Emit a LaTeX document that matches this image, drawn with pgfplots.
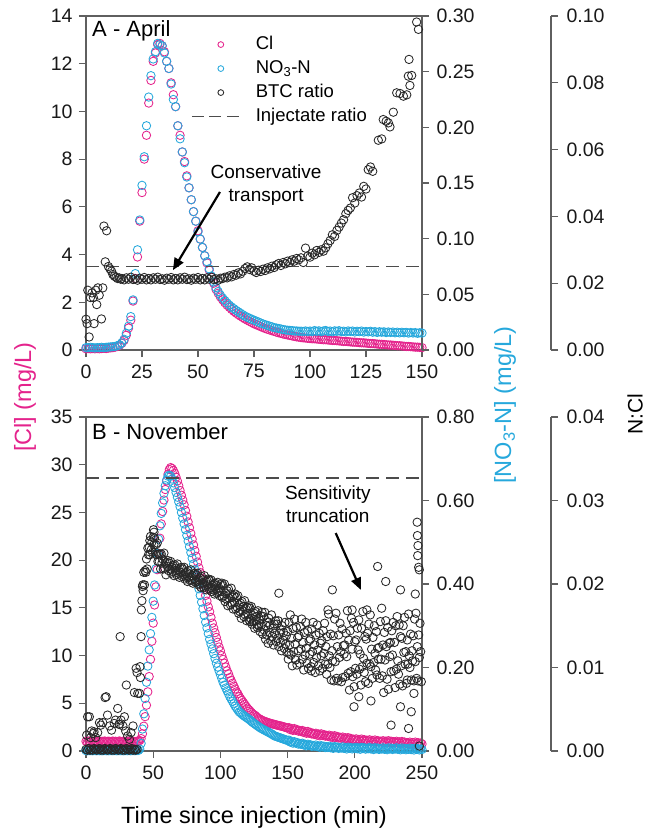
\documentclass[border=0pt]{standalone}
\usepackage{fontspec}
\setmainfont{Liberation Sans}
\usepackage{pgfplots}
\usepackage{pgfplotstable}
\pgfplotsset{compat=1.18}
\usetikzlibrary{arrows.meta}

\definecolor{clpink}{RGB}{228,35,140}
\definecolor{noblue}{RGB}{38,168,220}
\definecolor{axgray}{RGB}{95,95,95}
\definecolor{dotblack}{RGB}{40,40,40}

\pgfplotsset{
  panel/.style={scale only axis, width=336pt, height=334pt, clip=false,
    axis line style={axgray, line width=1.2pt},
    every tick/.style={axgray, line width=1.2pt},
    major tick length=7pt, tick align=outside,
    scaled y ticks=false, scaled x ticks=false,
    /pgf/number format/assume math mode=true,
    tick label style={font=\fontsize{19.5}{23}\selectfont, text=black!90},
    xticklabel style={yshift=-4pt}},
  twodec/.style={yticklabel style={/pgf/number format/fixed, /pgf/number format/fixed zerofill, /pgf/number format/precision=2}},
  dots/.style={only marks, mark=o, mark size=4.2pt, mark options={line width=0.85pt}},
  legm/.style={legend image code/.code={\path[draw=none] (0pt,0pt) -- (50pt,0pt);
      \begin{scope}[shift={(29pt,0pt)}, ##1, mark size=2.9pt, line width=0.85pt, solid]
      \pgfuseplotmark{o}\end{scope}}},
  legl/.style={legend image code/.code={\draw[##1, dash pattern=on 12pt off 5.5pt] (0pt,0pt) -- (47pt,0pt);}},
}

% April: t, Cl (mg/L), NO3-N (mg/L)
\pgfplotstableread[row sep=\\]{
t cl no3\\
0 0.05 0.0021\\ 1 0.06 0.0021\\ 2 0.05 0.0024\\ 3 0.06 0.0021\\ 4 0.05 0.0019\\ 5 0.06 0.0021\\
6 0.05 0.0021\\ 7 0.06 0.0024\\ 8 0.07 0.0021\\ 9 0.06 0.0024\\ 10 0.08 0.0026\\ 11 0.09 0.0028\\
12 0.10 0.0030\\ 13 0.12 0.0032\\ 14 0.15 0.0039\\ 15 0.20 0.0047\\ 16 0.28 0.0064\\ 17 0.40 0.0096\\
18 0.62 0.0150\\ 19 0.92 0.0214\\ 20 1.25 0.0300\\ 21 2.05 0.0450\\ 22 3.00 0.0686\\ 23 3.90 0.0900\\
24 5.40 0.1168\\ 25 6.60 0.1479\\ 26 8.00 0.1736\\ 27 9.00 0.2014\\ 28 10.35 0.2272\\ 29 11.30 0.2464\\
30 12.10 0.2614\\ 31 12.45 0.2679\\ 32 12.80 0.2754\\ 33 12.85 0.2743\\ 34 12.75 0.2732\\ 35 12.50 0.2668\\
36 12.10 0.2593\\ 37 11.80 0.2529\\ 38 11.20 0.2389\\ 39 10.70 0.2250\\ 40 10.20 0.2186\\ 41 9.40 0.2014\\
42 9.00 0.1897\\ 43 8.30 0.1779\\ 44 7.90 0.1682\\ 45 7.30 0.1554\\ 46 6.80 0.1457\\ 47 6.30 0.1350\\
48 5.80 0.1243\\ 49 5.40 0.1157\\ 50 5.00 0.1061\\ 51 4.65 0.0996\\ 52 4.30 0.0921\\ 53 3.95 0.0846\\
54 3.65 0.0793\\ 55 3.35 0.0729\\ 56 3.05 0.0664\\ 57 2.80 0.0611\\ 58 2.55 0.0561\\ 59 2.38 0.0525\\
60 2.22 0.0493\\ 61 2.10 0.0467\\ 62 1.98 0.0444\\ 63 1.88 0.0422\\ 64 1.79 0.0403\\ 65 1.70 0.0386\\
66 1.62 0.0371\\ 67 1.55 0.0356\\ 68 1.48 0.0343\\ 69 1.42 0.0330\\ 70 1.36 0.0317\\ 71 1.30 0.0304\\
72 1.25 0.0294\\ 73 1.20 0.0285\\ 74 1.15 0.0276\\ 75 1.10 0.0268\\ 76 1.06 0.0259\\ 77 1.02 0.0251\\
78 0.98 0.0242\\ 79 0.94 0.0234\\ 80 0.90 0.0227\\ 81 0.87 0.0221\\ 82 0.84 0.0214\\ 83 0.81 0.0208\\
84 0.78 0.0201\\ 85 0.75 0.0197\\ 86 0.72 0.0193\\ 87 0.70 0.0189\\ 88 0.67 0.0184\\ 89 0.65 0.0180\\
90 0.63 0.0178\\ 91 0.61 0.0176\\ 92 0.59 0.0174\\ 93 0.57 0.0171\\ 94 0.55 0.0171\\ 95 0.54 0.0169\\
96 0.52 0.0169\\ 97 0.51 0.0167\\ 98 0.50 0.0171\\ 99 0.49 0.0167\\ 100 0.48 0.0170\\ 101 0.47 0.0166\\
102 0.47 0.0174\\ 103 0.46 0.0168\\ 104 0.45 0.0172\\ 105 0.44 0.0165\\ 106 0.43 0.0171\\ 107 0.43 0.0175\\
108 0.42 0.0167\\ 109 0.41 0.0170\\ 110 0.40 0.0164\\ 111 0.40 0.0172\\ 112 0.39 0.0168\\ 113 0.38 0.0173\\
114 0.37 0.0166\\ 115 0.36 0.0169\\ 116 0.36 0.0163\\ 117 0.35 0.0171\\ 118 0.34 0.0167\\ 119 0.33 0.0170\\
120 0.33 0.0162\\ 121 0.32 0.0168\\ 122 0.31 0.0165\\ 123 0.30 0.0170\\ 124 0.30 0.0161\\ 125 0.29 0.0166\\
126 0.28 0.0163\\ 127 0.27 0.0168\\ 128 0.27 0.0160\\ 129 0.26 0.0165\\ 130 0.25 0.0158\\ 131 0.24 0.0164\\
132 0.24 0.0160\\ 133 0.23 0.0163\\ 134 0.22 0.0157\\ 135 0.21 0.0162\\ 136 0.21 0.0158\\ 137 0.20 0.0161\\
138 0.19 0.0155\\ 139 0.18 0.0160\\ 140 0.18 0.0154\\ 141 0.17 0.0159\\ 142 0.16 0.0155\\ 143 0.15 0.0158\\
144 0.15 0.0152\\ 145 0.14 0.0157\\ 146 0.13 0.0153\\ 147 0.12 0.0156\\ 148 0.12 0.0150\\ 149 0.11 0.0155\\
150 0.10 0.0152\\
}\dataA

% April: BTC ratio (N:Cl)
\pgfplotstableread[row sep=\\]{
t r\\
0 0.0092\\ 0.5 0.0079\\ 0.8 0.0179\\ 1.4 0.0039\\ 2.0 0.0157\\ 2.7 0.0171\\ 3.3 0.0157\\ 3.6 0.0079\\
4.4 0.0179\\ 4.8 0.0136\\ 5.3 0.0186\\ 5.9 0.0164\\ 6.9 0.0093\\ 7.5 0.0186\\ 8.0 0.0371\\ 8.6 0.0264\\
9.2 0.0357\\ 10.0 0.0250\\ 10.7 0.0243\\ 11.4 0.0236\\ 12.0 0.0226\\ 12.7 0.0221\\ 13.4 0.0218\\ 14.1 0.0214\\
14.8 0.0216\\ 15.5 0.0212\\ 16 0.0214\\ 17 0.0210\\ 18 0.0216\\ 19 0.0212\\ 20 0.0218\\ 21 0.0211\\
22 0.0213\\ 23 0.0209\\ 24 0.0215\\ 25 0.0212\\ 26 0.0217\\ 27 0.0210\\ 28 0.0214\\ 29 0.0210\\
30 0.0216\\ 31 0.0212\\ 32 0.0218\\ 33 0.0211\\ 34 0.0213\\ 35 0.0209\\ 36 0.0215\\ 37 0.0212\\
38 0.0217\\ 39 0.0210\\ 40 0.0214\\ 41 0.0210\\ 42 0.0216\\ 43 0.0212\\ 44 0.0218\\ 45 0.0211\\
46 0.0213\\ 47 0.0209\\ 48 0.0215\\ 49 0.0212\\ 50 0.0217\\ 51 0.0210\\ 52 0.0214\\ 53 0.0210\\
54 0.0216\\ 55 0.0212\\ 56 0.0218\\ 57 0.0211\\ 58 0.0213\\ 59 0.0209\\ 60 0.0215\\ 61 0.0214\\
62 0.0218\\ 63 0.0216\\ 64 0.0222\\ 65 0.0219\\ 66 0.0226\\ 67 0.0224\\ 68 0.0231\\ 69 0.0228\\
70 0.0236\\ 71 0.0244\\ 72 0.0249\\ 73 0.0241\\ 74 0.0246\\ 75 0.0236\\ 76 0.0232\\ 77 0.0239\\
78 0.0235\\ 79 0.0242\\ 80 0.0238\\ 81 0.0246\\ 82 0.0243\\ 83 0.0251\\ 84 0.0247\\ 85 0.0255\\
86 0.0259\\ 87 0.0253\\ 88 0.0262\\ 89 0.0258\\ 90 0.0266\\ 91 0.0262\\ 92 0.0270\\ 93 0.0266\\
94 0.0274\\ 95 0.0270\\ 96 0.0276\\ 97 0.0262\\ 98 0.0305\\ 99 0.0281\\ 100 0.0278\\ 101 0.0290\\
102 0.0285\\ 103 0.0298\\ 104 0.0292\\ 105 0.0300\\ 106 0.0296\\ 107 0.0306\\ 108 0.0318\\ 109 0.0328\\
110 0.0345\\ 111 0.0340\\ 112 0.0358\\ 113 0.0368\\ 114 0.0380\\ 115 0.0390\\ 116 0.0408\\ 117 0.0418\\
118 0.0425\\ 119 0.0456\\ 120 0.0440\\ 121 0.0462\\ 122 0.0470\\ 123 0.0458\\ 124 0.0490\\ 125 0.0482\\
126 0.0540\\ 127 0.0548\\ 128 0.0535\\ 130.5 0.0628\\ 132 0.0632\\ 132.7 0.0690\\ 134 0.0685\\ 135 0.0680\\
135.7 0.0668\\ 137.2 0.0712\\ 138.7 0.0770\\ 140.2 0.0768\\ 141.7 0.0760\\ 143.2 0.0764\\ 143.9 0.0820\\ 144.6 0.0792\\
145.4 0.0822\\ 144.2 0.0870\\ 147.6 0.0982\\ 148.4 0.0960\\
}\ratioA

% November: t, Cl (mg/L), NO3-N (mg/L)
\pgfplotstableread[row sep=\\]{
t cl no3\\
0 1.02 0.0010\\ 1 0.96 0.0008\\ 2 1.05 0.0012\\ 3 0.98 0.0009\\ 4 1.03 0.0011\\ 5 0.95 0.0007\\
6 1.01 0.0013\\ 7 1.06 0.0010\\ 8 0.97 0.0008\\ 9 1.00 0.0012\\ 10 1.04 0.0009\\ 11 0.96 0.0011\\
12 1.02 0.0007\\ 13 0.99 0.0010\\ 14 1.05 0.0013\\ 15 0.97 0.0009\\ 16 1.01 0.0011\\ 17 1.03 0.0008\\
18 0.95 0.0012\\ 19 1.00 0.0010\\ 20 1.04 0.0009\\ 21 0.98 0.0011\\ 22 1.02 0.0013\\ 23 0.96 0.0008\\
24 1.01 0.0010\\ 25 1.05 0.0012\\ 26 0.97 0.0009\\ 27 1.00 0.0011\\ 28 1.03 0.0007\\ 29 0.98 0.0010\\
30 1.02 0.0012\\ 31 0.96 0.0009\\ 32 1.04 0.0011\\ 33 0.99 0.0008\\ 34 1.01 0.0010\\ 35 1.03 0.0013\\
36 0.97 0.0009\\ 37 1.00 0.0011\\ 38 1.02 0.0012\\ 39 1.04 0.0015\\ 40 1.10 0.0046\\ 41 1.30 0.0183\\
42 1.80 0.0526\\ 43 2.60 0.0891\\ 44 3.60 0.1257\\ 45 4.80 0.1646\\ 46 6.20 0.2034\\ 47 7.80 0.2423\\
48 9.60 0.2811\\ 49 11.50 0.3200\\ 50 13.40 0.3589\\ 51 15.30 0.3977\\ 52 17.20 0.4366\\ 53 19.00 0.4731\\
54 20.70 0.5074\\ 55 22.30 0.5394\\ 56 23.80 0.5691\\ 57 25.10 0.5943\\ 58 26.30 0.6171\\ 59 27.40 0.6354\\
60 28.30 0.6491\\ 61 29.00 0.6583\\ 62 29.50 0.6606\\ 63 29.70 0.6583\\ 64 29.60 0.6514\\ 65 29.40 0.6423\\
66 29.10 0.6309\\ 67 28.70 0.6194\\ 68 28.30 0.6080\\ 69 27.80 0.5966\\ 70 27.30 0.5851\\ 71 26.80 0.5714\\
72 26.30 0.5577\\ 73 25.80 0.5440\\ 74 25.20 0.5303\\ 75 24.60 0.5166\\ 76 24.00 0.5029\\ 77 23.40 0.4891\\
78 22.80 0.4754\\ 79 22.20 0.4617\\ 80 21.60 0.4480\\ 81 21.00 0.4343\\ 82 20.40 0.4206\\ 83 19.80 0.4046\\
84 19.20 0.3886\\ 85 18.70 0.3726\\ 86 18.10 0.3566\\ 87 17.50 0.3406\\ 88 16.90 0.3246\\ 89 16.30 0.3086\\
90 15.70 0.2949\\ 91 15.10 0.2811\\ 92 14.60 0.2674\\ 93 14.00 0.2560\\ 94 13.40 0.2446\\ 95 12.90 0.2331\\
96 12.40 0.2217\\ 97 11.90 0.2103\\ 98 11.40 0.2011\\ 99 10.90 0.1920\\ 100 10.50 0.1829\\ 101 10.00 0.1737\\
102 9.60 0.1646\\ 103 9.20 0.1577\\ 104 8.80 0.1509\\ 105 8.40 0.1440\\ 106 8.10 0.1371\\ 107 7.70 0.1303\\
108 7.40 0.1246\\ 109 7.10 0.1189\\ 110 6.80 0.1131\\ 111 6.50 0.1074\\ 112 6.20 0.1029\\ 113 6.00 0.0983\\
114 5.70 0.0937\\ 115 5.50 0.0914\\ 116 5.30 0.0885\\ 117 5.10 0.0857\\ 118 4.90 0.0834\\ 119 4.70 0.0811\\
120 4.50 0.0789\\ 121 4.35 0.0766\\ 122 4.20 0.0743\\ 123 4.05 0.0713\\ 124 3.90 0.0686\\ 125 3.80 0.0663\\
126 3.70 0.0640\\ 127 3.57 0.0617\\ 128 3.45 0.0594\\ 129 3.37 0.0571\\ 130 3.30 0.0549\\ 131 3.22 0.0530\\
132 3.15 0.0514\\ 133 3.10 0.0496\\ 134 3.05 0.0480\\ 135 3.00 0.0462\\ 136 2.95 0.0446\\ 137 2.91 0.0427\\
138 2.87 0.0411\\ 139 2.83 0.0389\\ 140 2.80 0.0366\\ 141 2.76 0.0354\\ 142 2.72 0.0343\\ 143 2.68 0.0331\\
144 2.65 0.0320\\ 145 2.62 0.0309\\ 146 2.58 0.0297\\ 147 2.54 0.0286\\ 148 2.50 0.0274\\ 149 2.45 0.0263\\
150 2.40 0.0251\\ 151 2.45 0.0260\\ 152 2.24 0.0214\\ 153 2.35 0.0226\\ 154 2.16 0.0189\\ 155 2.35 0.0224\\
156 2.17 0.0191\\ 157 2.25 0.0204\\ 158 2.08 0.0165\\ 159 2.15 0.0181\\ 160 2.04 0.0161\\ 161 2.15 0.0186\\
162 1.94 0.0145\\ 163 2.05 0.0160\\ 164 1.86 0.0124\\ 165 2.05 0.0162\\ 166 1.87 0.0132\\ 167 1.95 0.0149\\
168 1.78 0.0113\\ 169 1.85 0.0133\\ 170 1.74 0.0116\\ 171 1.86 0.0143\\ 172 1.66 0.0105\\ 173 1.78 0.0121\\
174 1.60 0.0088\\ 175 1.80 0.0128\\ 176 1.63 0.0099\\ 177 1.72 0.0116\\ 178 1.56 0.0082\\ 179 1.64 0.0102\\
180 1.54 0.0086\\ 181 1.66 0.0114\\ 182 1.46 0.0077\\ 183 1.58 0.0096\\ 184 1.40 0.0064\\ 185 1.60 0.0105\\
186 1.43 0.0078\\ 187 1.52 0.0096\\ 188 1.36 0.0063\\ 189 1.44 0.0084\\ 190 1.34 0.0070\\ 191 1.46 0.0099\\
192 1.26 0.0062\\ 193 1.38 0.0081\\ 194 1.20 0.0049\\ 195 1.40 0.0091\\ 196 1.23 0.0064\\ 197 1.32 0.0083\\
198 1.16 0.0051\\ 199 1.24 0.0073\\ 200 1.14 0.0059\\ 201 1.27 0.0089\\ 202 1.08 0.0053\\ 203 1.21 0.0073\\
204 1.04 0.0042\\ 205 1.25 0.0085\\ 206 1.09 0.0058\\ 207 1.19 0.0078\\ 208 1.04 0.0045\\ 209 1.13 0.0068\\
210 1.04 0.0054\\ 211 1.17 0.0083\\ 212 0.98 0.0048\\ 213 1.11 0.0067\\ 214 0.94 0.0036\\ 215 1.15 0.0078\\
216 0.99 0.0052\\ 217 1.09 0.0071\\ 218 0.94 0.0038\\ 219 1.03 0.0061\\ 220 0.94 0.0047\\ 221 1.08 0.0077\\
222 0.89 0.0042\\ 223 1.03 0.0062\\ 224 0.86 0.0032\\ 225 1.08 0.0075\\ 226 0.92 0.0049\\ 227 1.03 0.0069\\
228 0.88 0.0037\\ 229 0.98 0.0060\\ 230 0.89 0.0047\\ 231 1.02 0.0076\\ 232 0.83 0.0041\\ 233 0.96 0.0060\\
234 0.79 0.0029\\ 235 1.00 0.0072\\ 236 0.84 0.0045\\ 237 0.94 0.0064\\ 238 0.79 0.0031\\ 239 0.88 0.0054\\
240 0.79 0.0040\\ 241 0.93 0.0070\\ 242 0.74 0.0034\\ 243 0.88 0.0054\\ 244 0.71 0.0024\\ 245 0.93 0.0066\\
246 0.77 0.0040\\ 247 0.88 0.0059\\ 248 0.73 0.0027\\ 249 0.83 0.0049\\ 250 0.74 0.0036\\
}\dataB

% November: BTC ratio (N:Cl)
\pgfplotstableread[row sep=\\]{
t r\\
0 0.0002\\ 1 0.0001\\ 2 0.0003\\ 3 0.0001\\ 4 0.0002\\ 5 0.0001\\ 6 0.0003\\ 7 0.0002\\ 8 0.0001\\ 9 0.0002\\
10 0.0003\\ 11 0.0001\\ 12 0.0002\\ 13 0.0001\\ 14 0.0003\\ 15 0.0002\\ 16 0.0001\\ 17 0.0002\\ 18 0.0003\\ 19 0.0001\\
20 0.0002\\ 21 0.0001\\ 22 0.0003\\ 23 0.0002\\ 24 0.0001\\ 25 0.0002\\ 26 0.0003\\ 27 0.0001\\ 28 0.0002\\ 29 0.0001\\
30 0.0003\\ 31 0.0002\\ 32 0.0001\\ 33 0.0002\\ 34 0.0003\\ 35 0.0001\\ 36 0.0002\\ 37 0.0001\\ 38 0.0002\\
0.5 0.0019\\ 1.2 0.0041\\ 2.5 0.0041\\ 3.5 0.0016\\ 4.2 0.0024\\ 5.5 0.0021\\ 6.0 0.0023\\ 7.2 0.0016\\
8.7 0.0022\\ 10.0 0.0034\\ 11.0 0.0031\\ 12.5 0.0034\\ 14.2 0.0064\\ 15.0 0.0065\\ 16.0 0.0043\\ 17.5 0.0030\\
19.0 0.0025\\ 21.0 0.0033\\ 22.0 0.0037\\ 23.6 0.0051\\ 24.5 0.0032\\ 25.0 0.0032\\ 26.0 0.0037\\ 25.4 0.0137\\
27.5 0.0030\\ 28.6 0.0041\\ 29.5 0.0024\\ 30.0 0.0079\\ 31.0 0.0018\\ 32.3 0.0014\\ 33.5 0.0022\\ 35.0 0.0030\\
36.0 0.0070\\ 37.3 0.0099\\ 38.0 0.0094\\ 38.5 0.0069\\ 39.8 0.0069\\ 40.2 0.0101\\ 40.5 0.0088\\ 41.0 0.0137\\
41.2 0.0169\\ 41.6 0.0180\\ 42.3 0.0199\\ 47.5 0.0252\\ 50.2 0.0265\\ 50.6 0.0262\\
42.0 0.0197\\ 42.5 0.0192\\ 43.0 0.0214\\ 43.5 0.0199\\ 44.0 0.0216\\ 44.5 0.0214\\ 45.0 0.0230\\ 45.5 0.0218\\
46.0 0.0243\\ 46.5 0.0235\\ 47.0 0.0244\\ 47.5 0.0235\\ 48.0 0.0257\\ 48.5 0.0241\\ 49.0 0.0250\\ 49.5 0.0238\\
50.0 0.0256\\ 50.5 0.0247\\ 51.0 0.0255\\ 51.5 0.0236\\ 52.0 0.0247\\ 52.5 0.0235\\ 53.0 0.0249\\ 53.5 0.0227\\
54.0 0.0236\\ 54.5 0.0227\\ 55.0 0.0236\\ 55.5 0.0218\\ 56.0 0.0236\\ 56.5 0.0225\\ 57.0 0.0230\\ 57.5 0.0218\\
58.0 0.0237\\ 58.5 0.0219\\ 59.0 0.0225\\ 59.5 0.0211\\ 60.0 0.0226\\ 60.5 0.0221\\ 61.0 0.0228\\ 61.5 0.0216\\
62.0 0.0225\\ 62.5 0.0218\\ 63.0 0.0227\\ 63.5 0.0213\\ 64.0 0.0220\\ 64.5 0.0215\\ 65.0 0.0222\\ 65.5 0.0210\\
66.0 0.0223\\ 66.5 0.0216\\ 67.0 0.0219\\ 67.5 0.0211\\ 68.0 0.0224\\ 68.5 0.0213\\ 69.0 0.0217\\ 69.5 0.0208\\
70.0 0.0219\\ 70.5 0.0214\\ 71.0 0.0220\\ 71.5 0.0209\\ 72.0 0.0218\\ 72.5 0.0211\\ 73.0 0.0220\\ 73.5 0.0206\\
74.0 0.0213\\ 74.5 0.0208\\ 75.0 0.0214\\ 75.5 0.0203\\ 76.0 0.0216\\ 76.5 0.0208\\ 77.0 0.0212\\ 77.5 0.0204\\
78.0 0.0217\\ 78.5 0.0205\\ 79.0 0.0210\\ 79.5 0.0201\\ 80.0 0.0212\\ 80.5 0.0206\\ 81.0 0.0213\\ 81.5 0.0202\\
82.0 0.0211\\ 82.5 0.0203\\ 83.0 0.0213\\ 83.5 0.0199\\ 84.0 0.0205\\ 84.5 0.0200\\ 85.0 0.0207\\ 85.5 0.0196\\
86.0 0.0209\\ 86.5 0.0201\\ 87.0 0.0205\\ 87.5 0.0196\\ 88.0 0.0210\\ 88.5 0.0198\\ 89.0 0.0203\\ 89.5 0.0193\\
90.0 0.0204\\ 90.5 0.0199\\ 91.0 0.0206\\ 91.5 0.0194\\ 92.0 0.0204\\ 92.5 0.0196\\ 93.0 0.0205\\ 93.5 0.0191\\
94.0 0.0198\\ 94.5 0.0193\\ 95.0 0.0200\\ 95.5 0.0188\\ 96.0 0.0201\\ 96.5 0.0194\\ 97.0 0.0198\\ 97.5 0.0189\\
98.0 0.0202\\ 98.5 0.0191\\ 99.0 0.0195\\ 99.5 0.0186\\ 100.0 0.0199\\ 100.5 0.0191\\ 101.0 0.0201\\ 101.5 0.0184\\
102.0 0.0198\\ 102.5 0.0186\\ 103.0 0.0200\\ 103.5 0.0179\\ 104.0 0.0189\\ 104.5 0.0182\\ 105.0 0.0192\\ 105.5 0.0174\\
106.0 0.0194\\ 106.5 0.0183\\ 107.0 0.0188\\ 107.5 0.0175\\ 108.0 0.0195\\ 108.5 0.0177\\ 109.0 0.0184\\ 109.5 0.0170\\
110.0 0.0186\\ 110.5 0.0178\\ 111.0 0.0188\\ 111.5 0.0170\\ 112.0 0.0184\\ 112.5 0.0172\\ 113.0 0.0186\\ 113.5 0.0165\\
114.0 0.0175\\ 114.5 0.0167\\ 115.0 0.0177\\ 115.5 0.0159\\ 116.0 0.0179\\ 116.5 0.0168\\ 117.0 0.0173\\ 117.5 0.0161\\
118.0 0.0180\\ 118.5 0.0163\\ 119.0 0.0170\\ 119.5 0.0156\\ 120.0 0.0172\\ 120.5 0.0164\\ 121.0 0.0174\\ 121.5 0.0157\\
122.0 0.0171\\ 122.5 0.0159\\ 123.0 0.0173\\ 123.5 0.0152\\ 124.0 0.0162\\ 124.5 0.0155\\ 125.0 0.0165\\ 125.5 0.0147\\
126.0 0.0167\\ 126.5 0.0156\\ 127.0 0.0161\\ 127.5 0.0148\\ 128.0 0.0168\\ 128.5 0.0150\\ 129.0 0.0157\\ 129.5 0.0143\\
130.0 0.0162\\ 130.5 0.0151\\ 131.0 0.0166\\ 131.5 0.0140\\ 132.0 0.0161\\ 132.5 0.0145\\ 133.0 0.0166\\ 133.5 0.0134\\
134.0 0.0150\\ 134.5 0.0139\\ 135.0 0.0154\\ 135.5 0.0129\\ 136.0 0.0159\\ 136.5 0.0142\\ 137.0 0.0151\\ 137.5 0.0132\\
138.0 0.0163\\ 138.5 0.0137\\ 139.0 0.0147\\ 139.5 0.0127\\ 140.0 0.0152\\ 140.5 0.0141\\ 141.0 0.0156\\ 141.5 0.0131\\
142.0 0.0152\\ 142.5 0.0135\\ 143.0 0.0156\\ 143.5 0.0125\\ 144.0 0.0141\\ 144.5 0.0130\\ 145.0 0.0145\\ 145.5 0.0120\\
146.0 0.0150\\ 146.5 0.0133\\ 147.0 0.0142\\ 147.5 0.0123\\ 148.0 0.0154\\ 148.5 0.0128\\ 149.0 0.0138\\ 149.5 0.0118\\
150.0 0.0143\\ 150.5 0.0110\\ 151.0 0.0154\\ 151.5 0.0127\\ 152.0 0.0163\\ 152.5 0.0115\\ 153.0 0.0135\\ 153.5 0.0102\\
154.0 0.0147\\ 154.5 0.0119\\ 155.0 0.0158\\ 155.5 0.0128\\ 156.0 0.0109\\ 156.5 0.0148\\ 157.0 0.0103\\ 157.5 0.0136\\
158.0 0.0120\\ 158.5 0.0138\\ 159.0 0.0105\\ 159.5 0.0149\\ 160.0 0.0122\\ 160.5 0.0158\\ 161.0 0.0110\\ 161.5 0.0130\\
162.0 0.0097\\ 162.5 0.0142\\ 163.0 0.0115\\ 163.5 0.0154\\ 164.0 0.0123\\ 164.5 0.0105\\ 165.0 0.0144\\ 165.5 0.0099\\
166.0 0.0132\\ 166.5 0.0116\\ 167.0 0.0134\\ 167.5 0.0101\\ 168.0 0.0146\\ 168.5 0.0119\\ 169.0 0.0154\\ 169.5 0.0106\\
170.0 0.0127\\ 170.5 0.0094\\ 171.0 0.0139\\ 171.5 0.0112\\ 172.0 0.0151\\ 172.5 0.0121\\ 173.0 0.0102\\ 173.5 0.0141\\
174.0 0.0096\\ 174.5 0.0129\\ 175.0 0.0114\\ 175.5 0.0132\\ 176.0 0.0099\\ 176.5 0.0144\\ 177.0 0.0117\\ 177.5 0.0153\\
178.0 0.0104\\ 178.5 0.0125\\ 179.0 0.0092\\ 179.5 0.0137\\ 180.0 0.0104\\ 180.5 0.0164\\ 181.0 0.0114\\ 181.5 0.0100\\
182.0 0.0140\\ 182.5 0.0085\\ 183.0 0.0120\\ 183.5 0.0108\\ 184.0 0.0138\\ 184.5 0.0084\\ 185.0 0.0158\\ 185.5 0.0107\\
186.0 0.0165\\ 186.5 0.0087\\ 187.0 0.0125\\ 187.5 0.0084\\ 188.0 0.0139\\ 188.5 0.0112\\ 189.0 0.0153\\ 189.5 0.0119\\
190.0 0.0083\\ 190.5 0.0146\\ 191.0 0.0088\\ 191.5 0.0126\\ 192.0 0.0116\\ 192.5 0.0127\\ 193.0 0.0089\\ 193.5 0.0141\\
194.0 0.0113\\ 194.5 0.0168\\ 195.0 0.0093\\ 195.5 0.0133\\ 196.0 0.0073\\ 196.5 0.0144\\ 197.0 0.0095\\ 197.5 0.0159\\
198.0 0.0122\\ 198.5 0.0089\\ 199.0 0.0154\\ 199.5 0.0077\\ 200.0 0.0131\\ 200.5 0.0099\\ 201.0 0.0133\\ 201.5 0.0092\\
202.0 0.0147\\ 202.5 0.0121\\ 203.0 0.0157\\ 203.5 0.0098\\ 204.0 0.0116\\ 204.5 0.0079\\ 205.0 0.0147\\ 205.5 0.0101\\
206.0 0.0167\\ 206.5 0.0111\\ 207.0 0.0094\\ 207.5 0.0137\\ 208.0 0.0083\\ 208.5 0.0134\\ 209.0 0.0105\\ 209.5 0.0141\\
210.0 0.0081\\ 210.5 0.0152\\ 211.0 0.0104\\ 211.5 0.0163\\ 212.0 0.0101\\ 212.5 0.0122\\ 213.0 0.0087\\ 213.5 0.0136\\
214.0 0.0106\\ 214.5 0.0150\\ 215.0 0.0117\\ 215.5 0.0097\\ 216.0 0.0143\\ 216.5 0.0091\\ 217.0 0.0123\\ 217.5 0.0110\\
218.0 0.0124\\ 218.5 0.0087\\ 219.0 0.0155\\ 219.5 0.0110\\ 220.0 0.0171\\ 220.5 0.0090\\ 221.0 0.0127\\ 221.5 0.0070\\
222.0 0.0142\\ 222.5 0.0109\\ 223.0 0.0156\\ 223.5 0.0125\\ 224.0 0.0086\\ 224.5 0.0148\\ 225.0 0.0074\\ 225.5 0.0129\\
226.0 0.0113\\ 226.5 0.0130\\ 227.0 0.0095\\ 227.5 0.0144\\ 228.0 0.0115\\ 228.5 0.0154\\ 229.0 0.0096\\ 229.5 0.0130\\
230.0 0.0076\\ 230.5 0.0150\\ 231.0 0.0098\\ 231.5 0.0161\\ 232.0 0.0108\\ 232.5 0.0092\\ 233.0 0.0151\\ 233.5 0.0080\\
234.0 0.0137\\ 234.5 0.0102\\ 235.0 0.0135\\ 235.5 0.0078\\ 236.0 0.0150\\ 236.5 0.0118\\ 237.0 0.0160\\ 237.5 0.0104\\
238.0 0.0119\\ 238.5 0.0081\\ 239.0 0.0133\\ 239.5 0.0104\\ 240.0 0.0164\\ 240.5 0.0114\\ 241.0 0.0100\\ 241.5 0.0140\\
242.0 0.0085\\ 242.5 0.0120\\ 243.0 0.0108\\ 243.5 0.0138\\ 244.0 0.0084\\ 244.5 0.0158\\ 245.0 0.0107\\ 245.5 0.0165\\
246.0 0.0087\\ 246.5 0.0125\\ 247.0 0.0084\\ 247.5 0.0139\\ 248.0 0.0112\\ 248.5 0.0153\\ 249.0 0.0119\\ 249.5 0.0083\\
183.3 0.0193\\ 180.0 0.0169\\ 198.0 0.0169\\ 209.0 0.0169\\ 217.0 0.0221\\ 223.0 0.0203\\ 234.0 0.0193\\ 245.0 0.0188\\
246.4 0.0274\\ 246.6 0.0258\\ 247.0 0.0246\\ 246.8 0.0234\\ 247.5 0.0220\\ 248.0 0.0217\\ 199.4 0.0053\\ 203.0 0.0065\\
212.0 0.0060\\ 227.0 0.0031\\ 240.0 0.0027\\ 244.0 0.0069\\ 242.0 0.0047\\ 234.0 0.0053\\ 239.0 0.0085\\ 248.0 0.0006\\
143.5 0.0189\\ 122.0 0.0155\\ 127.0 0.0152\\ 151.0 0.0117\\ 167.6 0.0096\\
}\ratioB

\begin{document}
\begin{tikzpicture}
\path[use as bounding box] (-86pt,-481pt) rectangle (565pt,350pt);

% ---------- A - April ----------
\begin{axis}[panel, at={(0pt,0pt)}, anchor=south west,
  xmin=0, xmax=150, ymin=0, ymax=14, tick pos=left,
  xtick={0,25,...,150}, ytick={0,2,...,14}, yticklabel style={xshift=-3pt}]
\addplot[dots, clpink] table[x=t, y=cl] {\dataA};
\node[anchor=north west, inner sep=0pt, font=\fontsize{22}{26}\selectfont] at (rel axis cs:0.018,0.988) {A - April};
\end{axis}

\begin{axis}[panel, twodec, at={(0pt,0pt)}, anchor=south west,
  xmin=0, xmax=150, ymin=0, ymax=0.3, hide x axis, axis y line*=right,
  ytick={0,0.05,0.1,0.15,0.2,0.25,0.3}, yticklabel style={xshift=4pt}]
\addplot[dots, noblue] table[x=t, y=no3] {\dataA};
\end{axis}

\begin{axis}[panel, at={(0pt,0pt)}, anchor=south west,
  xmin=0, xmax=150, ymin=0, ymax=0.1, hide axis, legend cell align=left,
  legend style={draw=none, fill=none, at={(0.3036,0.948)}, anchor=north west,
    font=\fontsize{18.5}{22}\selectfont, row sep=6pt, column sep=13pt,
    nodes={inner sep=1pt, text height=13pt, text depth=3pt}}]
\addlegendimage{dots, clpink, legm}
\addlegendentry{Cl}
\addlegendimage{dots, noblue, legm}
\addlegendentry{NO\textsubscript{3}-N}
\addplot[dots, dotblack, legm] table[x=t, y=r] {\ratioA};
\addlegendentry{BTC ratio}
\addplot[black!70, line width=1.2pt, dash pattern=on 13pt off 7pt, legl] coordinates {(0,0.0249) (150,0.0249)};
\addlegendentry{Injectate ratio}
\node[align=center, font=\fontsize{19}{23}\selectfont] at (axis cs:80.4,0.0493) {Conservative\\transport};
\draw[-{Triangle[length=12pt,width=10pt]}, line width=2.2pt] (axis cs:59.8,0.0473) -- (axis cs:38.8,0.0239);
\end{axis}

\begin{axis}[panel, twodec, width=10pt, at={(465pt,0pt)}, anchor=south east,
  xmin=0, xmax=1, ymin=0, ymax=0.1, hide x axis, axis y line*=right,
  ytick={0,0.02,0.04,0.06,0.08,0.1}, yticklabel style={xshift=5pt}]
\addplot[draw=none] coordinates {(0,0)};
\end{axis}

% ---------- B - November ----------
\begin{axis}[panel, at={(0pt,-401pt)}, anchor=south west,
  xmin=0, xmax=250, ymin=0, ymax=35, tick pos=left,
  xtick={0,50,...,250}, ytick={0,5,...,35}, yticklabel style={xshift=-3pt}]
\addplot[dots, clpink] table[x=t, y=cl] {\dataB};
\node[anchor=north west, inner sep=0pt, font=\fontsize{22}{26}\selectfont] at (rel axis cs:0.018,0.982) {B - November};
\end{axis}

\begin{axis}[panel, twodec, at={(0pt,-401pt)}, anchor=south west,
  xmin=0, xmax=250, ymin=0, ymax=0.8, hide x axis, axis y line*=right,
  ytick={0,0.2,0.4,0.6,0.8}, yticklabel style={xshift=4pt}]
\addplot[dots, noblue] table[x=t, y=no3] {\dataB};
\end{axis}

\begin{axis}[panel, at={(0pt,-401pt)}, anchor=south west,
  xmin=0, xmax=250, ymin=0, ymax=0.04, hide axis]
\addplot[dots, dotblack] table[x=t, y=r] {\ratioB};
\addplot[black!70, line width=1.2pt, dash pattern=on 13pt off 7pt] coordinates {(0,0.0327) (250,0.0327)};
\node[align=center, font=\fontsize{19}{23}\selectfont] at (axis cs:179.9,0.0296) {Sensitivity\\truncation};
\draw[-{Triangle[length=12pt,width=10pt]}, line width=2.2pt] (axis cs:185.8,0.0261) -- (axis cs:204.5,0.0193);
\end{axis}

\begin{axis}[panel, twodec, width=10pt, at={(465pt,-401pt)}, anchor=south east,
  xmin=0, xmax=1, ymin=0, ymax=0.04, hide x axis, axis y line*=right,
  ytick={0,0.01,0.02,0.03,0.04}, yticklabel style={xshift=5pt}]
\addplot[draw=none] coordinates {(0,0)};
\end{axis}

% shared axis titles
\node[rotate=90, text=clpink, font=\fontsize{23.5}{28}\selectfont] at (-61pt,-47pt) {[Cl] (mg/L)};
\node[rotate=90, text=noblue, font=\fontsize{23.5}{28}\selectfont] at (419pt,-55pt) {[NO\textsubscript{3}-N] (mg/L)};
\node[rotate=90, font=\fontsize{21}{25}\selectfont] at (549pt,-64pt) {N:Cl};
\node[font=\fontsize{23.5}{28}\selectfont] at (168pt,-467pt) {Time since injection (min)};
\end{tikzpicture}
\end{document}
